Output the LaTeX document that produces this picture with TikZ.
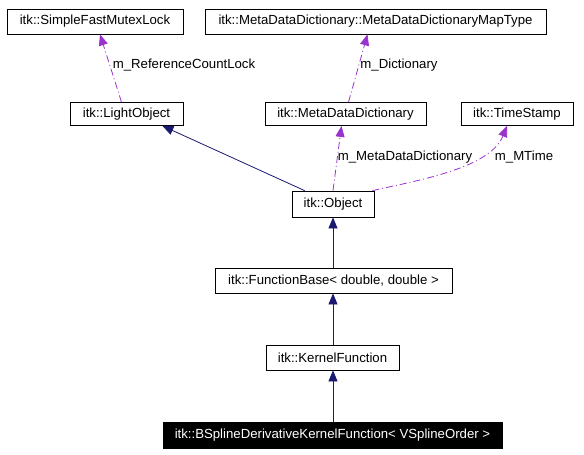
\documentclass[tikz,border=0pt]{standalone}
\usepackage{fontspec}
\setmainfont{Liberation Sans}
\usetikzlibrary{arrows.meta,calc}
\definecolor{inh}{HTML}{191970}
\definecolor{use}{HTML}{9A32CD}
\begin{document}
\begin{tikzpicture}[x=1pt,y=-1pt,
  font=\fontsize{13.2}{15}\selectfont,
  cls/.style={draw=black,line width=0.8pt,inner sep=0pt,anchor=center},
  inhedge/.style={draw=inh,line width=0.8pt,-{Triangle[length=11pt,width=9pt]}},
  useedge/.style={draw=use,line width=0.8pt,dash pattern=on 7pt off 3pt on 1pt off 3pt,-{Triangle[length=11pt,width=9pt]}},
  lbl/.style={inner sep=0pt,anchor=center}]
\useasboundingbox (0,0) rectangle (584,455);
\node[cls,minimum width=176,minimum height=25] (mutex) at (95,21.5) {itk::SimpleFastMutexLock};
\node[cls,minimum width=341,minimum height=25] (maptype) at (375.5,21.5) {itk::MetaDataDictionary::MetaDataDictionaryMapType};
\node[cls,minimum width=113,minimum height=23] (light) at (126.5,114) {itk::LightObject};
\node[cls,minimum width=161,minimum height=23] (mdd) at (345.5,114) {itk::MetaDataDictionary};
\node[cls,minimum width=112,minimum height=23] (ts) at (517,114) {itk::TimeStamp};
\node[cls,minimum width=82,minimum height=26] (obj) at (333,204) {itk::Object};
\node[cls,minimum width=237,minimum height=25] (fb) at (333.5,280.5) {itk::FunctionBase< double, double >};
\node[cls,minimum width=133,minimum height=25] (kf) at (332.5,357.5) {itk::KernelFunction};
\node[cls,fill=black,text=white,minimum width=339,minimum height=26] (bs) at (332.5,435) {itk::BSplineDerivativeKernelFunction< VSplineOrder >};

\draw[inhedge] ($(obj.north west)+(13,0)$) -- ($(light.south east)+(-21,0)$);
\draw[inhedge] (fb.north -| obj.south) -- (obj.south);
\draw[inhedge] (kf.north -| obj.south) -- (fb.south -| obj.south);
\draw[inhedge] (bs.north -| obj.south) -- (kf.south -| obj.south);

\draw[useedge] ($(light.north)+(-5,0)$) -- ($(mutex.south)+(5,0)$);
\draw[useedge] ($(mdd.north)+(3,0)$) -- ($(maptype.south)+(-8,0)$);
\draw[useedge] (obj.north) -- ($(mdd.south)+(-4,0)$);
\draw[useedge] ($(obj.north east)+(-2,0)$) .. controls (420,180) and (490,168) .. ($(ts.south)+(-10,0)$);

\node[lbl] (l1) at (184,65) {m\_ReferenceCountLock};
\node[lbl] (l2) at (399,65) {m\_Dictionary};
\node[lbl] (l3) at (405,157) {m\_MetaDataDictionary};
\node[lbl] (l4) at (524,157) {m\_MTime};
\end{tikzpicture}
\end{document}
